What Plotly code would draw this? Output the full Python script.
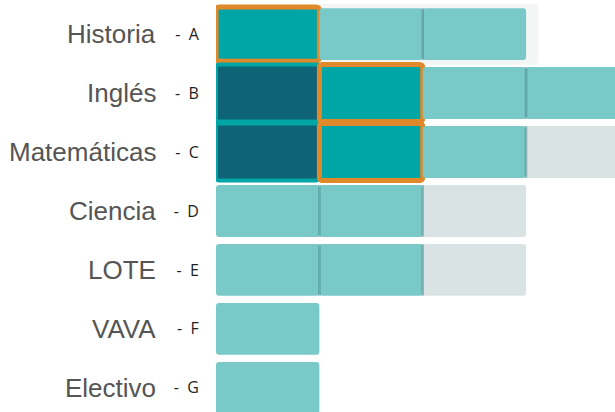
import plotly.graph_objects as go

# ---- data ----
letras = ["A", "B", "C", "D", "E", "F", "G"]
materias = ["Historia", "Inglés", "Matemáticas", "Ciencia", "LOTE", "VAVA", "Electivo"]
# estado de cada celda por columna (None = sin celda)
col_1 = ["actual", "oscuro", "oscuro", "claro", "claro", "claro", "claro"]
col_2 = ["claro", "actual", "actual", "claro", "claro", None, None]
col_3 = ["claro", "claro", "claro", "gris", "gris", None, None]
col_4 = [None, "claro", "gris", None, None, None, None]
# bordes de celdas resaltadas
borde_1 = ["naranja", "teal", "teal", None, None, None, None]
borde_2 = [None, "naranja", "naranja", None, None, None, None]
fondo_fila = [2.12, None, None, None, None, None, None]

colores = {"actual": "#00A6A6", "oscuro": "#0F6377", "claro": "#78C9C7", "gris": "#D9E3E4"}
bordes = {"naranja": "#E0892A", "teal": "#00A6A6"}

columnas = [col_1, col_2, col_3, col_4]
bordes_col = [borde_1, borde_2, [None] * 7, [None] * 7]

ypos = list(range(len(letras)))

fig = go.Figure()

# row background
fig.add_trace(go.Bar(
    orientation="h", y=ypos, x=[v if v else 0 for v in fondo_fila], base=[1] * 7,
    width=1.04, marker=dict(color="#F4F5F5", line=dict(width=0), cornerradius=3),
    hoverinfo="skip", showlegend=False))

for ci, (col, bcol) in enumerate(zip(columnas, bordes_col)):
    xs, cs, lc, lw, ws = [], [], [], [], []
    for est, b in zip(col, bcol):
        xs.append(1 if est else 0)
        cs.append(colores.get(est, "rgba(0,0,0,0)"))
        if b:
            lc.append(bordes[b]); lw.append(5 if b == "naranja" else 4)
            ws.append(0.97 if ci == 1 or b == "teal" else 0.92)
        else:
            lc.append("rgba(0,0,0,0)"); lw.append(0); ws.append(0.88)
    fig.add_trace(go.Bar(
        orientation="h", y=ypos, x=xs, base=[ci] * 7, width=ws,
        marker=dict(color=cs, line=dict(color=lc, width=lw), cornerradius=3),
        hoverinfo="skip", showlegend=False))

# separators between adjacent plain cells (derived from the data)
sx, sy = [], []
for yi in ypos:
    for ci in range(1, len(columnas)):
        izq, der = columnas[ci - 1][yi], columnas[ci][yi]
        if izq in ("claro",) and der in ("claro", "gris") and not bordes_col[ci][yi]:
            sx += [ci, ci, None]
            sy += [yi - 0.44, yi + 0.44, None]
fig.add_trace(go.Scatter(x=sx, y=sy, mode="lines",
                         line=dict(color="rgba(60,125,130,0.45)", width=2.5),
                         hoverinfo="skip", showlegend=False))

# subject names
for y, m in zip(ypos, materias):
    fig.add_annotation(x=-0.145, xref="paper", y=y, yref="y", text=m, showarrow=False,
                       xanchor="right", yanchor="middle",
                       font=dict(family="Liberation Sans, Arial", size=26, color="#555555"))

fig.update_layout(
    width=615, height=412, barmode="overlay",
    margin=dict(l=216, r=0, t=4, b=0),
    plot_bgcolor="white", paper_bgcolor="white",
    xaxis=dict(range=[0, 3.86], showgrid=False, zeroline=False, showticklabels=False,
               visible=False),
    yaxis=dict(range=[6.41, -0.51], tickvals=ypos, ticktext=["-  " + l for l in letras],
               showgrid=False, zeroline=False, ticks="outside", ticklen=13,
               tickcolor="rgba(0,0,0,0)",
               tickfont=dict(family="Open Sans", size=16, color="#1e1e1e")),
)

fig.write_html("out.html", config={"displayModeBar": False},
               post_script="document.body.style.margin='0';")
